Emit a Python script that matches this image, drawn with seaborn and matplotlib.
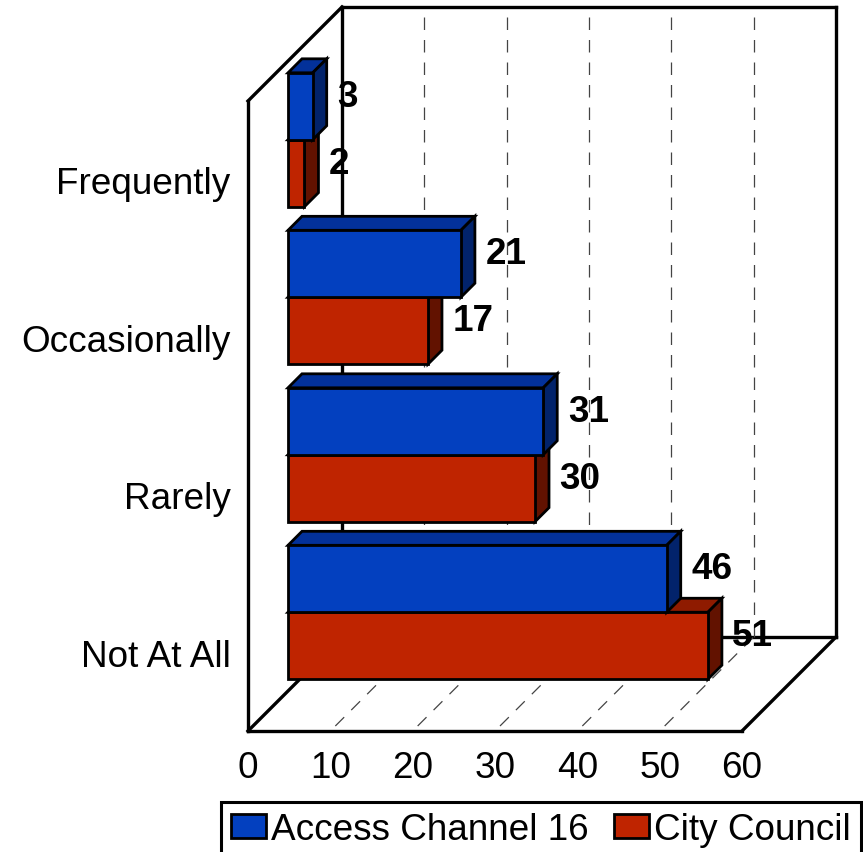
import matplotlib
matplotlib.use('Agg')
import matplotlib.pyplot as plt
import pandas as pd
import seaborn as sns
from matplotlib.lines import Line2D
from matplotlib.patches import Polygon
from matplotlib.transforms import Affine2D, IdentityTransform

categories = ['Frequently', 'Occasionally', 'Rarely', 'Not At All']
access_values = [3, 21, 31, 46]
council_values = [2, 17, 30, 51]
series_names = ['Access Channel 16', 'City Council']
x_ticks = [0, 10, 20, 30, 40, 50, 60]

colors = ['#0340BF', '#BF2400']
top_colors = ['#03319A', '#8F1B00']
side_colors = ['#02236B', '#621200']

sns.set_style('white')
plt.rcParams['font.family'] = ['Liberation Sans', 'DejaVu Sans']
plt.rcParams['text.color'] = 'black'
plt.rcParams['xtick.color'] = 'black'
plt.rcParams['ytick.color'] = 'black'

df = pd.DataFrame({
    'category': categories * 2,
    'value': access_values + council_values,
    'series': [series_names[0]] * 4 + [series_names[1]] * 4,
})

W, H = 863, 853
fig = plt.figure(figsize=(W / 100, H / 100), dpi=100)
ax = fig.add_axes([248 / W, (H - 732) / H, 494 / W, 630 / H])

sns.barplot(data=df, y='category', x='value', hue='series', order=categories,
            hue_order=series_names, palette=colors, saturation=1, width=0.85,
            gap=0, edgecolor='black', linewidth=2.0, zorder=3, ax=ax)
ax.set_xlim(0, 60)
ax.set_ylim(3.5, -0.5)
ax.set_xticks(x_ticks)
ax.set_xlabel('')
ax.set_ylabel('')
ax.tick_params(axis='both', length=0, labelsize=26.6)
ax.tick_params(axis='x', pad=13.5)
ax.tick_params(axis='y', pad=12.5)
ax.patch.set_alpha(0)
sns.despine(ax=ax, top=True, right=True)
for side in ['left', 'bottom']:
    ax.spines[side].set_linewidth(2.4)
    ax.spines[side].set_color('black')

display = IdentityTransform()
wall = 94     # depth of the box, pixels
front = 40    # bars stand this far behind the front plane
depth = 14    # depth of a bar


def line(p, q, **kw):
    ax.add_line(Line2D([p[0], q[0]], [p[1], q[1]], transform=display,
                       clip_on=False, **kw))


def shifted(p, d):
    return (p[0] + d, p[1] + d)


# box walls
x0, y0 = ax.transData.transform((0, 3.5))
x1, y1 = ax.transData.transform((60, -0.5))
solid = dict(color='black', lw=2.4, zorder=1, solid_capstyle='projecting')
line((x0, y1), (x0 + wall, y1 + wall), **solid)
line((x0, y0), (x0 + wall, y0 + wall), **solid)
line((x1, y0), (x1 + wall, y0 + wall), **solid)
line((x0 + wall, y0 + wall), (x0 + wall, y1 + wall), **solid)
line((x0 + wall, y1 + wall), (x1 + wall, y1 + wall), **solid)
line((x1 + wall, y1 + wall), (x1 + wall, y0 + wall), **solid)
line((x0 + wall, y0 + wall), (x1 + wall, y0 + wall), **solid)

# grid on back wall and floor
dashed = dict(color='#444444', lw=0.9, zorder=1, dashes=(10, 8))
for t in x_ticks[1:-1]:
    xt = ax.transData.transform((t, 3.5))[0]
    line((xt + 5, y0 + 5), (xt + wall, y0 + wall), **dashed)
    line((xt + wall, y0 + wall), (xt + wall, y1 + wall), **dashed)

# bars with their top and side faces, moved back from the front plane
# first series sits on top so it hides the top face of the second
move = ax.transData + Affine2D().translate(front, front)
for n, container in enumerate(ax.containers):
    for bar in container:
        xa, ya = move.transform((bar.get_x(), bar.get_y() + bar.get_height()))
        xb, yb = move.transform((bar.get_x() + bar.get_width(), bar.get_y()))
        z = 5 - n
        face = dict(transform=display, clip_on=False, ec='black', lw=2.0,
                    joinstyle='miter', zorder=z)
        ax.add_patch(Polygon([(xa, yb), (xb, yb), shifted((xb, yb), depth),
                              shifted((xa, yb), depth)], fc=top_colors[n], **face))
        ax.add_patch(Polygon([(xb, ya), (xb, yb), shifted((xb, yb), depth),
                              shifted((xb, ya), depth)], fc=side_colors[n], **face))
        bar.set_transform(move)
        bar.set_clip_on(False)
        bar.set_zorder(z + 0.5)
        ax.annotate(f'{bar.get_width():.0f}', xy=(xb, (ya + yb) / 2), xycoords=display,
                    xytext=(24.5 * 0.72, 10 * 0.72), textcoords='offset points',
                    ha='left', va='center', fontsize=26.6, fontweight='bold',
                    color='black', zorder=10, annotation_clip=False)

sns.move_legend(ax, 'lower left', bbox_to_anchor=(221 / W, -5.5 / H), bbox_transform=fig.transFigure,
                ncol=2, title=None, frameon=True, fontsize=26.6, borderaxespad=0,
                handlelength=0.95, handleheight=0.62, handletextpad=0.13,
                columnspacing=0.68, borderpad=0.28, fancybox=False, edgecolor='black',
                framealpha=1)
leg = ax.get_legend()
leg.get_frame().set_linewidth(2.2)
leg.set_zorder(20)

fig.savefig('out.png', dpi=100, facecolor='white')
